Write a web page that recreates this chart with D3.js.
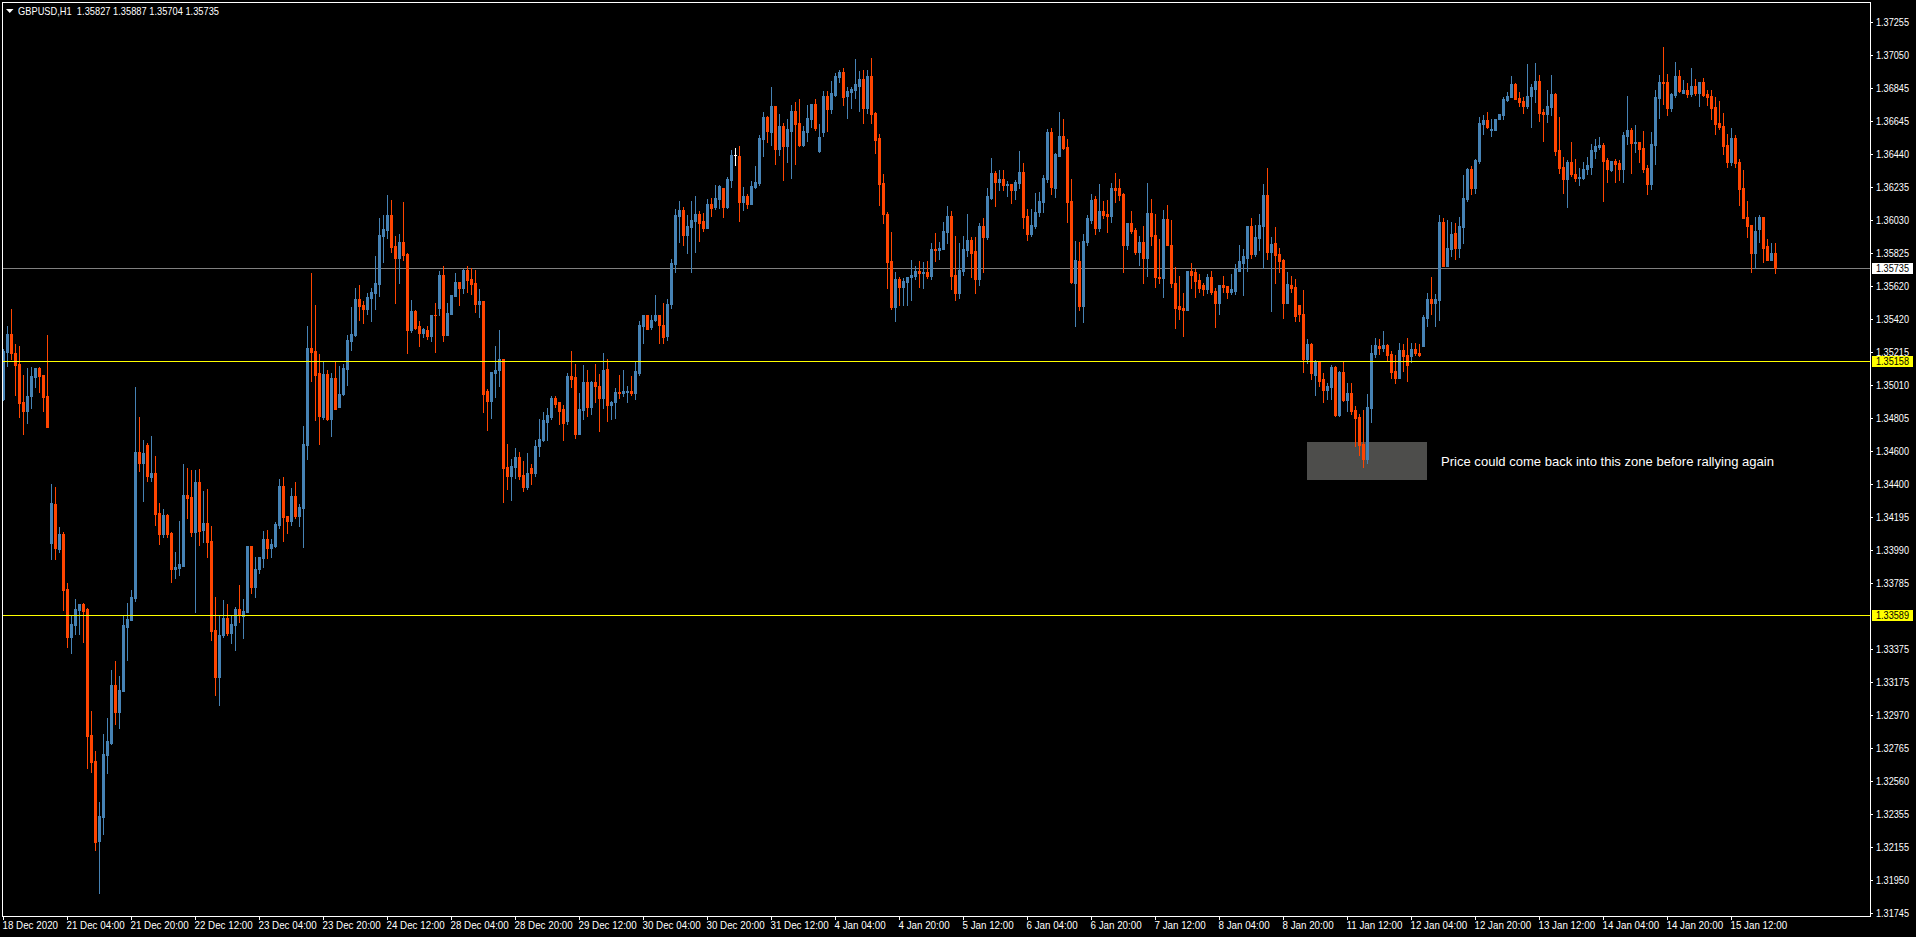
<!DOCTYPE html>
<html>
<head>
<meta charset="utf-8">
<title>GBPUSD,H1</title>
<script src="https://cdn.jsdelivr.net/npm/d3@7"></script>
<style>
html, body { margin: 0; padding: 0; background: #000; overflow: hidden; }
svg { display: block; }
text { font-family: "Liberation Sans", Arial, sans-serif; fill: #fff; white-space: pre; }
.axis text { font-size: 11px; }
</style>
</head>
<body>
<div id="chart"></div>
<script>
// bars are [open, high, low, close] in points (0.00001)
var bars18Dec = [
[134921,135230,134915,135220],[135214,135378,135127,135323],[135323,135483,135174,135205],[135211,135261,134946,135131],
[135137,135249,134810,134896],[134902,135075,134705,134847],[134847,135113,134773,134940],[134940,135119,134871,135063],
[135057,135117,134995,135113],[135113,135121,134964,135063],[135069,135069,134847,134933],[134940,135317,134748,134748],
[134031,134401,133932,134278],[134272,134377,133932,134000],[133994,134130,133975,134086],[134086,134099,133617,133740],
[133746,133783,133388,133450],[133450,133580,133351,133530],[133524,133685,133468,133623],[133617,133654,133468,133654],
[133654,133660,133419,133610],[133623,133629,132640,132838],[132844,132992,132615,132677],[132683,132745,132133,132183],
[132189,132430,131868,132344],[132337,132850,132232,132727],[132721,132949,132609,132807],[132799,133246,132788,133153],
[133153,133301,132912,132986],[132986,133209,132887,133122],[133116,133580,133116,133524],[133512,133660,133308,133561],
[133555,133740,133555,133697],[133691,134995,133672,134595],[134595,134810,134478,134525],[134525,134668,134290,134587],
[134637,134649,134414,134445],[134439,134692,134414,134463],[134463,134569,134142,134210],[134216,134278,134024,134086],
[134086,134241,134068,134204],[134204,134210,134068,134086],[134092,134099,133790,133870],[133870,133975,133814,133882],
[133876,134167,133833,133901],[133891,134519,133891,134333],[134333,134495,134185,134309],[134315,134482,134074,134099],
[134099,134482,133604,134408],[134408,134488,134018,134105],[134111,134352,134037,134154],[134154,134364,133944,134037],
[134043,134136,133431,133487],[133493,133697,133091,133203],[133203,133586,133030,133462],[133462,133678,133450,133567],
[133567,133654,133462,133475],[133475,133586,133413,133530],[133524,133635,133369,133623],[133623,133771,133542,133592],
[133580,133685,133444,133610],[133604,134012,133604,134012],[134012,134012,133722,133759],[133759,133944,133697,133870],
[133870,133944,133845,133944],[133938,134105,133882,134055],[134055,134111,133938,134000],[134000,134055,133944,134025],
[134012,134160,134006,134148],[134142,134426,134123,134383],[134383,134439,134043,134191],[134198,134198,134092,134167],
[134167,134371,134142,134321],[134321,134408,134185,134198],[134198,134272,134136,134253],[134247,134754,134006,134643],
[134637,135372,134550,135242],[135242,135700,135038,135212],[135218,135508,134791,135075],[135082,135199,134643,134816]
];
var bars23Dec = [
[134815,135155,134797,135081],[135081,135106,134791,134803],[134803,135087,134692,135056],[135056,135155,134859,134859],
[134877,135130,134877,134957],[134957,135137,134951,135118],[135112,135322,135013,135291],[135285,135495,135229,135328],
[135322,135613,135316,135545],[135545,135631,135415,135501],[135508,135532,135396,135483],[135483,135582,135452,135557],
[135551,135613,135409,135588],[135582,135810,135483,135643],[135637,136045,135563,135940],[135934,136064,135773,135977],
[135971,136187,135922,136064],[136064,136156,135835,135866],[135872,135934,135520,135798],[135798,135946,135643,135897],
[135897,136144,135786,135816],[135823,135829,135211,135353],[135353,135538,135341,135470],[135470,135477,135359,135365],
[135372,135409,135254,135334],[135334,135365,135304,135359],[135353,135372,135297,135316],[135316,135446,135285,135446],
[135446,135520,135217,135440],[135489,135718,135440,135693],[135693,135749,135285,135322],[135322,135520,135322,135458],
[135452,135569,135452,135569],[135563,135705,135563,135650],[135650,135650,135508,135613],[135613,135730,135582,135724],
[135724,135749,135588,135662],[135668,135736,135575,135637],[135643,135724,135464,135514],[135514,135606,135433,135532],
[135532,135532,134846,134957],[134970,134988,134729,134914],[134914,135093,134809,135093],[135087,135254,134933,135106],
[135100,135353,135007,135174],[135174,135174,134284,134494],[134506,134648,134364,134445],[134445,134550,134302,134512],
[134506,134618,134432,134562],[134562,134593,134426,134445],[134451,134543,134352,134377],[134377,134587,134364,134463],
[134494,134519,134395,134463],[134463,134667,134445,134636],[134630,134803,134574,134679],[134673,134846,134661,134791],
[134784,134871,134667,134822],[134815,134945,134797,134927],[134927,134945,134877,134890],[134902,134902,134772,134852]
];
var bars29Dec = [
[134859,134884,134667,134778],[134785,135087,134766,135063],[135063,135223,134995,135050],[135057,135137,134680,134710],
[134710,134958,134710,134859],[134853,135131,134797,135026],[135026,135100,134816,134877],[134877,135032,134828,135026],
[135026,135143,134908,135001],[135007,135081,134723,134927],[134927,135211,134871,135100],[135112,135174,134785,134884],
[134884,134914,134797,134908],[134902,134989,134809,134964],[134964,135069,134927,134958],[134958,135100,134945,134970],
[134964,135007,134902,134970],[134976,135063,134951,134958],[134958,135155,134921,135094],[135087,135409,135075,135384],
[135378,135446,135267,135440],[135440,135446,135359,135359],[135366,135446,135359,135415],[135415,135569,135403,135440],
[135440,135446,135267,135384],[135384,135520,135273,135310],[135316,135545,135291,135514],[135514,135792,135489,135767],
[135761,136101,135712,136064],[136058,136150,135897,136095],[136095,136113,135878,135940],[135940,136064,135829,135996],
[135990,136150,135712,136033],[136027,136181,135835,136070],[136070,136089,135903,136014],[136027,136076,135965,135984],
[135984,136163,135984,136132],[136132,136169,136058,136107],[136113,136249,136101,136169],[136163,136249,136107,136243],
[136231,136231,136052,136113],[136113,136299,136107,136286],[136280,136466,136237,136435],[136435,136478,136373,136435],
[136429,136490,136027,136144],[136144,136237,136095,136181],[136181,136194,136107,136132],[136132,136274,136132,136243],
[136237,136367,136231,136268],[136262,136558,136249,136540],[136534,136701,136429,136670],[136670,136676,136515,136583],
[136577,136855,136497,136738],[136738,136738,136379,136472],[136472,136688,136435,136614],[136614,136633,136281,136491],
[136491,136658,136392,136596],[136583,136744,136293,136707],[136707,136763,136379,136627],[136633,136779,136491,136497]
];
var bars4Jan = [
[136497,136614,136491,136583],[136577,136744,136522,136664],[136658,136750,136608,136750],[136750,136781,136590,136602],
[136460,136627,136454,136546],[136577,136831,136553,136800],[136800,136831,136583,136719],[136719,136892,136695,136818],
[136806,136942,136800,136923],[136917,136960,136886,136948],[136948,136973,136744,136794],[136800,136855,136664,136831],
[136824,136855,136726,136843],[136837,137028,136787,136874],[136862,136954,136707,136905],[136905,136960,136633,136726],
[136726,136960,136695,136923],[136923,137035,136633,136688],[136695,136701,136447,136528],[136540,136565,136126,136256],
[136262,136312,136009,136070],[136070,136077,135607,135768],[135774,135959,135483,135490],[135490,135712,135403,135663],
[135663,135681,135502,135619],[135619,135669,135508,135656],[135650,135681,135502,135681],[135675,135786,135533,135693],
[135687,135749,135663,135718],[135718,135780,135619,135700],[135700,135768,135607,135706],[135706,135780,135669,135687],
[135687,135891,135663,135854],[135854,135953,135774,135842],[135848,135897,135792,135860],[135854,136021,135854,135965],
[135959,136120,135891,136058],[136058,136089,135601,135687],[135693,135934,135533,135582],[135582,135891,135551,135724],
[135718,135934,135693,135854],[135848,136070,135811,135904],[135904,135928,135681,135829],[135836,135928,135582,135663],
[135663,136015,135626,135996],[135996,136040,135712,135928],[135928,136231,135916,136176],[136169,136417,136163,136324],
[136324,136336,136120,136268],[136268,136342,136219,136287],[136287,136342,136219,136244],[136244,136274,136182,136256],
[136256,136256,136138,136213],[136213,136281,136163,136268],[136262,136460,136231,136330],[136330,136386,135978,136052],
[136058,136101,135904,135941],[135941,136101,135934,136002],[135996,136200,135984,136083],[136083,136206,136058,136151]
];
var bars6Jan = [
[136144,136311,136083,136293],[136287,136596,136268,136577],[136577,136602,136194,136237],[136231,136447,136175,136441],
[136429,136701,136429,136552],[136552,136657,136472,136478],[136484,136534,136021,136144],[136151,136287,135638,135650],
[135644,135903,135378,135786],[135780,135897,135471,135496],[135496,135947,135397,135903],[135897,136064,135873,136046],
[136033,136194,136015,136157],[136163,136181,135947,135978],[135978,136256,135965,136089],[136089,136151,136046,136064],
[136070,136157,135959,136058],[136058,136262,136021,136231],[136231,136324,136144,136219],[136231,136287,136157,136188],
[136194,136200,135712,135879],[135879,136015,135854,136009],[136009,136089,135953,135965],[135971,135984,135823,135835],
[135835,135934,135755,135897],[135897,135996,135638,135798],[135798,136262,135687,136076],[136076,136163,135879,135934],
[135940,136070,135619,135681],[135681,135916,135638,135669],[135669,136095,135557,136039],[136039,136126,135873,135873],
[135879,136033,135619,135638],[135644,135737,135360,135489],[135496,135687,135421,135483],[135489,135582,135316,135471],
[135471,135718,135471,135718],[135718,135767,135613,135693],[135706,135730,135557,135656],[135662,135699,135588,135613],
[135631,135644,135564,135601],[135601,135699,135582,135681],[135681,135718,135570,135588],[135594,135613,135366,135520],
[135520,135631,135452,135631],[135631,135687,135588,135619],[135625,135625,135551,135588],[135588,135699,135576,135601],
[135594,135761,135576,135730],[135718,135879,135718,135774],[135767,135854,135564,135805],[135798,135996,135718,135996],
[135996,136046,135798,135823],[135823,136002,135805,135928],[135922,136070,135848,136002],[135996,136256,135734,136188],
[136188,136355,135792,135835],[135835,135928,135465,135885],[135891,135990,135638,135817],[135823,135860,135706,135780]
];
var bars8Jan = [
[135786,135792,135422,135520],[135520,135706,135520,135632],[135626,135687,135588,135613],[135619,135663,135403,135434],
[135508,135508,135403,135452],[135452,135595,135088,135174],[135174,135292,135144,135261],[135261,135267,135045,135082],
[135075,135162,134946,135156],[135156,135156,135001,135038],[135045,135082,134902,134977],[134977,135020,134921,135001],
[134995,135131,134921,135119],[135119,135125,134816,134822],[134822,135094,134816,135088],[135088,135156,134909,134915],
[134915,135020,134847,134958],[134958,135020,134828,134847],[134853,134878,134631,134804],[134810,134828,134575,134637],
[134643,134853,134501,134550],[134550,134952,134525,134872],[134865,135255,134779,135205],[135199,135298,135181,135255],
[135249,135292,135199,135236],[135236,135347,135218,135255],[135255,135261,135162,135193],[135199,135218,135051,135088],
[135094,135193,135020,135051],[135051,135273,135051,135224],[135224,135261,135094,135187],[135193,135298,135032,135131],
[135187,135273,135150,135230],[135230,135267,135193,135205],[135211,135261,135187,135193],[135249,135446,135249,135428],
[135422,135582,135372,135539],[135539,135675,135452,135520],[135520,135576,135378,135539],[135533,136064,135415,136021],
[136021,136046,135749,135749],[135749,136033,135749,135860],[135854,136021,135805,135947],[135953,136015,135792,135860],
[135860,136052,135799,135996],[135990,136311,135891,136169],[136163,136355,136151,136349],[136349,136367,136194,136231],
[136231,136410,136200,136404],[136398,136670,136386,136633],[136627,136682,136565,136651],[136651,136701,136602,136608],
[136590,136658,136553,136596],[136590,136658,136590,136658],[136658,136688,136658,136688],[136682,136794,136658,136781],
[136775,136824,136769,136800],[136794,136923,136794,136874],[136874,136880,136781,136781],[136787,136824,136738,136763]
];
var bars13Jan = [
[136769,136794,136695,136738],[136738,136997,136726,136800],[136800,136874,136608,136855],[136843,137004,136763,136892],
[136892,136930,136645,136695],[136701,136719,136522,136688],[136688,136837,136639,136738],[136732,136930,136682,136812],
[136812,136818,136435,136460],[136466,136670,136324,136355],[136361,136423,136200,136287],[136287,136404,136108,136392],
[136392,136515,136305,136312],[136318,136410,136274,136293],[136293,136355,136250,136299],[136293,136392,136287,136349],
[136349,136423,136312,136373],[136361,136503,136312,136466],[136460,136534,136417,136491],[136485,136546,136472,136497],
[136497,136509,136151,136398],[136404,136417,136268,136349],[136342,136398,136336,136398],[136398,136410,136268,136379],
[136386,136404,136281,136349],[136349,136577,136268,136559],[136553,136800,136503,136590],[136590,136602,136324,136509],
[136509,136620,136454,136515],[136515,136515,136392,136472],[136478,136583,136330,136349],[136355,136373,136194,136256],
[136256,136577,136225,136503],[136497,136837,136379,136794],[136787,136930,136664,136886],[136886,137103,136750,136880],
[136886,136936,136682,136726],[136726,136818,136707,136812],[136806,137010,136794,136923],[136923,136960,136824,136831],
[136818,136899,136818,136837],[136837,136880,136794,136812],[136812,136973,136800,136862],[136862,136905,136806,136818],
[136818,136886,136738,136886],[136886,136911,136800,136806],[136812,136837,136744,136794],[136800,136837,136658,136726],
[136732,136794,136565,136627],[136633,136769,136596,136608],[136614,136695,136441,136491],[136497,136565,136361,136392],
[136392,136602,136373,136540],[136540,136559,136361,136386],[136392,136410,136126,136225],[136231,136342,136046,136046],
[136052,136151,135928,135996],[136002,136002,135712,135829],[135829,136052,135735,135965],[135972,136064,135897,136052],
[136052,136052,135768,135860],[135867,135916,135786,135786],[135786,135891,135786,135829],[135827,135887,135704,135735]
];
var bars = [].concat(bars18Dec, bars23Dec, bars29Dec, bars4Jan, bars6Jan, bars8Jan, bars13Jan);

var timeLabels = ["18 Dec 2020","21 Dec 04:00","21 Dec 20:00","22 Dec 12:00","23 Dec 04:00","23 Dec 20:00","24 Dec 12:00",
    "28 Dec 04:00","28 Dec 20:00","29 Dec 12:00","30 Dec 04:00","30 Dec 20:00","31 Dec 12:00","4 Jan 04:00","4 Jan 20:00",
    "5 Jan 12:00","6 Jan 04:00","6 Jan 20:00","7 Jan 12:00","8 Jan 04:00","8 Jan 20:00","11 Jan 12:00","12 Jan 04:00",
    "12 Jan 20:00","13 Jan 12:00","14 Jan 04:00","14 Jan 20:00","15 Jan 12:00"];
var barsPerLabel = 16;
var priceTicks = [1.37255,1.37050,1.36845,1.36645,1.36440,1.36235,1.36030,1.35825,1.35620,1.35420,1.35215,1.35010,1.34805,
    1.34600,1.34400,1.34195,1.33990,1.33785,1.33375,1.33175,1.32970,1.32765,1.32560,1.32355,1.32155,1.31950,1.31745];
var header = "GBPUSD,H1  1.35827 1.35887 1.35704 1.35735";
var bidPrice = 1.35735;
var levels = [1.35158, 1.33589];
var zone = [326, 356, 1.34655, 1.34420]; // first bar, last bar, top, bottom
var note = "Price could come back into this zone before rallying again";

var upColor = "#4682b4", downColor = "#ff4500", dojiColor = "#fff";

var W = 1916, H = 937;
var svg = d3.select("#chart").append("svg").attr("width", W).attr("height", H);
svg.append("rect").attr("width", W).attr("height", H).attr("fill", "#000");

var x = d3.scaleLinear().domain([0, bars.length - 1]).range([3, 1775]);
var y = d3.scaleLinear().domain([1.37255, 1.31745]).rangeRound([22, 913]);
var py = function(p){ return y(p * 1e-5); };

function barColor(d){
    if(d[3] == d[0]) return dojiColor;
    return d[3] > d[0] ? upColor : downColor;
}

// squeeze the text, the terminal font is narrower than what we have here
function squeeze(sel, k){
    sel.attr("lengthAdjust", "spacingAndGlyphs")
        .attr("textLength", function(){ return this.getComputedTextLength() * k; });
}

// zone behind the candles
svg.append("rect")
    .attr("x", x(zone[0])).attr("y", y(zone[2]))
    .attr("width", x(zone[1]) - x(zone[0])).attr("height", y(zone[3]) - y(zone[2]))
    .attr("fill", "#4d4d4b");

// bid line is behind the bars too
svg.append("rect").attr("x", 3).attr("y", y(bidPrice)).attr("width", 1867).attr("height", 1).attr("fill", "#808080");

var candle = svg.append("g").selectAll("g").data(bars).enter().append("g")
    .attr("fill", barColor)
    .attr("shape-rendering", "crispEdges");

candle.append("rect")
    .attr("x", function(d, i){ return x(i); })
    .attr("width", 1)
    .attr("y", function(d){ return py(d[1]); })
    .attr("height", function(d){ return py(d[2]) - py(d[1]) + 1; });

candle.append("rect")
    .attr("x", function(d, i){ return x(i) - 1; })
    .attr("width", 3)
    .attr("y", function(d){ return py(Math.max(d[0], d[3])); })
    .attr("height", function(d){ return py(Math.min(d[0], d[3])) - py(Math.max(d[0], d[3])) + 1; });

// levels sit on top of the bars
svg.selectAll(".level").data(levels).enter().append("rect")
    .attr("class", "level")
    .attr("x", 3).attr("y", function(d){ return y(d); })
    .attr("width", 1867).attr("height", 1)
    .attr("fill", "#ffff00");

// axes
var yAxis = d3.axisRight(y).tickValues(priceTicks).tickSize(2).tickPadding(3).tickFormat(d3.format(".5f"));
var gy = svg.append("g").attr("class", "axis").attr("transform", "translate(1871,0)").call(yAxis);
gy.select(".domain").remove();
gy.selectAll("line").attr("stroke", "#fff");
gy.selectAll("text").call(squeeze, 0.83);

var tickBars = timeLabels.map(function(d, i){ return i * barsPerLabel; });
var xAxis = d3.axisBottom(x).tickValues(tickBars).tickSize(3).tickPadding(1)
    .tickFormat(function(d){ return timeLabels[d / barsPerLabel]; });
var gx = svg.append("g").attr("class", "axis").attr("transform", "translate(0,917)").call(xAxis);
gx.select(".domain").remove();
gx.selectAll("line").attr("stroke", "#fff");
gx.selectAll("text").attr("text-anchor", "start").attr("x", -1).call(squeeze, 0.89);

// window frame
var frame = [[2, 2, 1869, 1], [2, 2, 1, 915], [2, 916, 1869, 1], [1870, 2, 1, 915]];
svg.selectAll(".frame").data(frame).enter().append("rect")
    .attr("class", "frame")
    .attr("x", function(d){ return d[0]; }).attr("y", function(d){ return d[1]; })
    .attr("width", function(d){ return d[2]; }).attr("height", function(d){ return d[3]; })
    .attr("fill", "#fff");

// price tags on the right
var tags = [[bidPrice, "#fff"], [levels[0], "#ffff00"], [levels[1], "#ffff00"]];
var tag = svg.selectAll(".tag").data(tags).enter().append("g").attr("class", "tag axis");
tag.append("rect")
    .attr("x", 1872).attr("width", 41).attr("height", 11)
    .attr("y", function(d){ return y(d[0]) - 5; })
    .attr("fill", function(d){ return d[1]; });
tag.append("text")
    .attr("x", 1876).attr("y", function(d){ return y(d[0]) + 0.5; }).attr("dy", "0.32em")
    .style("fill", "#000")
    .text(function(d){ return d3.format(".5f")(d[0]); })
    .call(squeeze, 0.83);

// header
svg.append("path")
    .attr("d", "M6,9L13.5,9L9.75,13Z")
    .attr("fill", "#fff");
svg.append("text").attr("x", 18).attr("y", 14.5).attr("font-size", 11)
    .text(header)
    .attr("lengthAdjust", "spacingAndGlyphs").attr("textLength", 201);

svg.append("text").attr("x", 1441).attr("y", 466).attr("font-size", 13.5)
    .text(note)
    .attr("lengthAdjust", "spacingAndGlyphs").attr("textLength", 333);
</script>
</body>
</html>
